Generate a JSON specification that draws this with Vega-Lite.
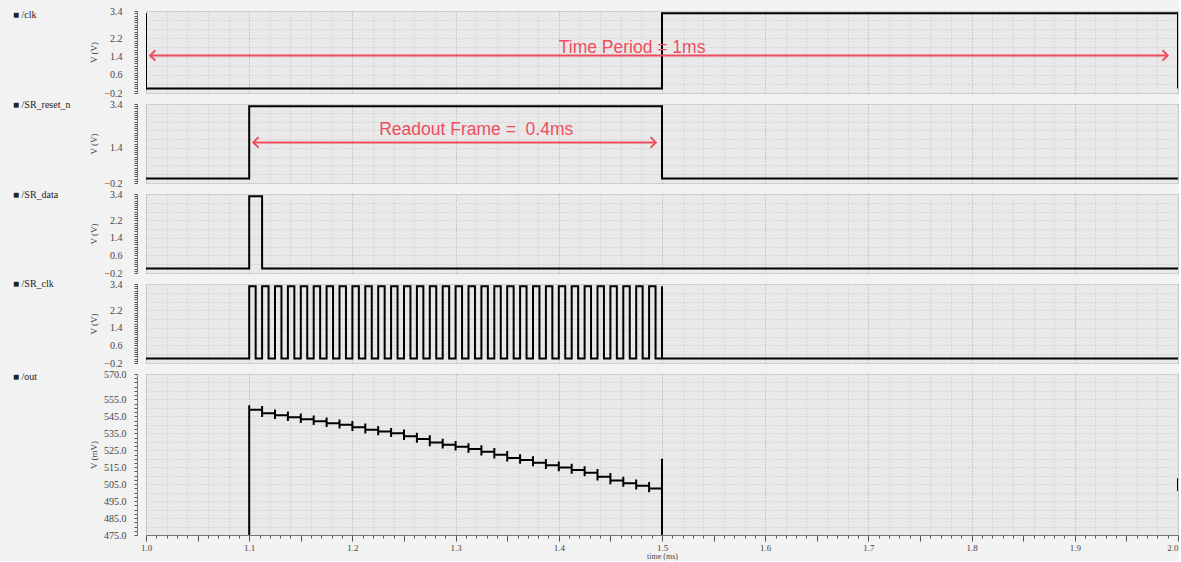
{
  "$schema": "https://vega.github.io/schema/vega-lite/v6.json",
  "background": "#f2f2f2",
  "padding": {"left": 12, "top": 5, "right": 0, "bottom": 0},
  "bounds": "flush",
  "spacing": 11,
  "config": {
    "view": {"fill": "#e9e9e9", "stroke": "#d2d2d2", "strokeWidth": 1},
    "axis": {"labelFont": "Liberation Serif", "titleFont": "Liberation Serif", "labelFontSize": 10, "labelColor": "#444", "titleFontSize": 9, "titleFontWeight": "normal", "titleColor": "#444", "tickColor": "#555", "domainColor": "#777", "gridDash": [1, 2], "gridColor": "#c6c6c6", "labelOverlap": false, "labelBound": false},
    "title": {"font": "Liberation Serif", "fontSize": 10, "fontWeight": "normal", "color": "#222", "anchor": "start", "frame": "group", "orient": "top", "offset": 0, "baseline": "middle", "dx": -133}
  },
  "datasets": {
    "clk": [{"t": 1.0, "v": 3.3}, {"t": 1.0, "v": 0}, {"t": 1.5, "v": 3.3}, {"t": 2.0, "v": 0}],
    "reset": [{"t": 1.0, "v": 0}, {"t": 1.1, "v": 3.3}, {"t": 1.5, "v": 0}, {"t": 2.0, "v": 0}],
    "sdata": [{"t": 1.0, "v": 0}, {"t": 1.1, "v": 3.3}, {"t": 1.1125, "v": 0}, {"t": 2.0, "v": 0}],
    "srclk": [
      {"t": 1.0, "v": 0},
      {"t": 1.1, "v": 3.3}, {"t": 1.10625, "v": 0},
      {"t": 1.1125, "v": 3.3}, {"t": 1.11875, "v": 0},
      {"t": 1.125, "v": 3.3}, {"t": 1.13125, "v": 0},
      {"t": 1.1375, "v": 3.3}, {"t": 1.14375, "v": 0},
      {"t": 1.15, "v": 3.3}, {"t": 1.15625, "v": 0},
      {"t": 1.1625, "v": 3.3}, {"t": 1.16875, "v": 0},
      {"t": 1.175, "v": 3.3}, {"t": 1.18125, "v": 0},
      {"t": 1.1875, "v": 3.3}, {"t": 1.19375, "v": 0},
      {"t": 1.2, "v": 3.3}, {"t": 1.20625, "v": 0},
      {"t": 1.2125, "v": 3.3}, {"t": 1.21875, "v": 0},
      {"t": 1.225, "v": 3.3}, {"t": 1.23125, "v": 0},
      {"t": 1.2375, "v": 3.3}, {"t": 1.24375, "v": 0},
      {"t": 1.25, "v": 3.3}, {"t": 1.25625, "v": 0},
      {"t": 1.2625, "v": 3.3}, {"t": 1.26875, "v": 0},
      {"t": 1.275, "v": 3.3}, {"t": 1.28125, "v": 0},
      {"t": 1.2875, "v": 3.3}, {"t": 1.29375, "v": 0},
      {"t": 1.3, "v": 3.3}, {"t": 1.30625, "v": 0},
      {"t": 1.3125, "v": 3.3}, {"t": 1.31875, "v": 0},
      {"t": 1.325, "v": 3.3}, {"t": 1.33125, "v": 0},
      {"t": 1.3375, "v": 3.3}, {"t": 1.34375, "v": 0},
      {"t": 1.35, "v": 3.3}, {"t": 1.35625, "v": 0},
      {"t": 1.3625, "v": 3.3}, {"t": 1.36875, "v": 0},
      {"t": 1.375, "v": 3.3}, {"t": 1.38125, "v": 0},
      {"t": 1.3875, "v": 3.3}, {"t": 1.39375, "v": 0},
      {"t": 1.4, "v": 3.3}, {"t": 1.40625, "v": 0},
      {"t": 1.4125, "v": 3.3}, {"t": 1.41875, "v": 0},
      {"t": 1.425, "v": 3.3}, {"t": 1.43125, "v": 0},
      {"t": 1.4375, "v": 3.3}, {"t": 1.44375, "v": 0},
      {"t": 1.45, "v": 3.3}, {"t": 1.45625, "v": 0},
      {"t": 1.4625, "v": 3.3}, {"t": 1.46875, "v": 0},
      {"t": 1.475, "v": 3.3}, {"t": 1.48125, "v": 0},
      {"t": 1.4875, "v": 3.3}, {"t": 1.49375, "v": 0},
      {"t": 1.5, "v": 3.3}, {"t": 1.5, "v": 0},
      {"t": 2.0, "v": 0}
    ],
    "out": [
      {"t": 1.0, "v": 300, "seg": "a"},
      {"t": 1.1, "v": 551.5, "seg": "a"}, {"t": 1.1, "v": 548.9, "seg": "a"},
      {"t": 1.1125, "v": 551.1, "seg": "a"}, {"t": 1.1125, "v": 544.7, "seg": "a"}, {"t": 1.1125, "v": 546.9, "seg": "a"},
      {"t": 1.125, "v": 549.1, "seg": "a"}, {"t": 1.125, "v": 543.5, "seg": "a"}, {"t": 1.125, "v": 545.7, "seg": "a"},
      {"t": 1.1375, "v": 547.9, "seg": "a"}, {"t": 1.1375, "v": 542.3, "seg": "a"}, {"t": 1.1375, "v": 544.5, "seg": "a"},
      {"t": 1.15, "v": 546.7, "seg": "a"}, {"t": 1.15, "v": 541.1, "seg": "a"}, {"t": 1.15, "v": 543.3, "seg": "a"},
      {"t": 1.1625, "v": 545.5, "seg": "a"}, {"t": 1.1625, "v": 539.9, "seg": "a"}, {"t": 1.1625, "v": 542.1, "seg": "a"},
      {"t": 1.175, "v": 544.3, "seg": "a"}, {"t": 1.175, "v": 538.7, "seg": "a"}, {"t": 1.175, "v": 540.9, "seg": "a"},
      {"t": 1.1875, "v": 543.1, "seg": "a"}, {"t": 1.1875, "v": 537.9, "seg": "a"}, {"t": 1.1875, "v": 540.1, "seg": "a"},
      {"t": 1.2, "v": 542.3, "seg": "a"}, {"t": 1.2, "v": 536.4, "seg": "a"}, {"t": 1.2, "v": 538.6, "seg": "a"},
      {"t": 1.2125, "v": 540.8, "seg": "a"}, {"t": 1.2125, "v": 534.9, "seg": "a"}, {"t": 1.2125, "v": 537.1, "seg": "a"},
      {"t": 1.225, "v": 539.3, "seg": "a"}, {"t": 1.225, "v": 533.8, "seg": "a"}, {"t": 1.225, "v": 536.0, "seg": "a"},
      {"t": 1.2375, "v": 538.2, "seg": "a"}, {"t": 1.2375, "v": 532.8, "seg": "a"}, {"t": 1.2375, "v": 535.0, "seg": "a"},
      {"t": 1.25, "v": 537.2, "seg": "a"}, {"t": 1.25, "v": 531.0, "seg": "a"}, {"t": 1.25, "v": 533.2, "seg": "a"},
      {"t": 1.2625, "v": 535.4, "seg": "a"}, {"t": 1.2625, "v": 529.4, "seg": "a"}, {"t": 1.2625, "v": 531.6, "seg": "a"},
      {"t": 1.275, "v": 533.8, "seg": "a"}, {"t": 1.275, "v": 527.4, "seg": "a"}, {"t": 1.275, "v": 529.6, "seg": "a"},
      {"t": 1.2875, "v": 531.8, "seg": "a"}, {"t": 1.2875, "v": 526.0, "seg": "a"}, {"t": 1.2875, "v": 528.2, "seg": "a"},
      {"t": 1.3, "v": 530.4, "seg": "a"}, {"t": 1.3, "v": 524.8, "seg": "a"}, {"t": 1.3, "v": 527.0, "seg": "a"},
      {"t": 1.3125, "v": 529.2, "seg": "a"}, {"t": 1.3125, "v": 523.5, "seg": "a"}, {"t": 1.3125, "v": 525.7, "seg": "a"},
      {"t": 1.325, "v": 527.9, "seg": "a"}, {"t": 1.325, "v": 521.9, "seg": "a"}, {"t": 1.325, "v": 524.1, "seg": "a"},
      {"t": 1.3375, "v": 526.3, "seg": "a"}, {"t": 1.3375, "v": 520.1, "seg": "a"}, {"t": 1.3375, "v": 522.3, "seg": "a"},
      {"t": 1.35, "v": 524.5, "seg": "a"}, {"t": 1.35, "v": 518.3, "seg": "a"}, {"t": 1.35, "v": 520.5, "seg": "a"},
      {"t": 1.3625, "v": 522.7, "seg": "a"}, {"t": 1.3625, "v": 517.1, "seg": "a"}, {"t": 1.3625, "v": 519.3, "seg": "a"},
      {"t": 1.375, "v": 521.5, "seg": "a"}, {"t": 1.375, "v": 515.5, "seg": "a"}, {"t": 1.375, "v": 517.7, "seg": "a"},
      {"t": 1.3875, "v": 519.9, "seg": "a"}, {"t": 1.3875, "v": 513.9, "seg": "a"}, {"t": 1.3875, "v": 516.1, "seg": "a"},
      {"t": 1.4, "v": 518.3, "seg": "a"}, {"t": 1.4, "v": 512.6, "seg": "a"}, {"t": 1.4, "v": 514.8, "seg": "a"},
      {"t": 1.4125, "v": 517.0, "seg": "a"}, {"t": 1.4125, "v": 511.1, "seg": "a"}, {"t": 1.4125, "v": 513.3, "seg": "a"},
      {"t": 1.425, "v": 515.5, "seg": "a"}, {"t": 1.425, "v": 509.6, "seg": "a"}, {"t": 1.425, "v": 511.8, "seg": "a"},
      {"t": 1.4375, "v": 514.0, "seg": "a"}, {"t": 1.4375, "v": 507.2, "seg": "a"}, {"t": 1.4375, "v": 509.4, "seg": "a"},
      {"t": 1.45, "v": 511.6, "seg": "a"}, {"t": 1.45, "v": 505.0, "seg": "a"}, {"t": 1.45, "v": 507.2, "seg": "a"},
      {"t": 1.4625, "v": 509.4, "seg": "a"}, {"t": 1.4625, "v": 503.4, "seg": "a"}, {"t": 1.4625, "v": 505.6, "seg": "a"},
      {"t": 1.475, "v": 507.8, "seg": "a"}, {"t": 1.475, "v": 501.8, "seg": "a"}, {"t": 1.475, "v": 504.0, "seg": "a"},
      {"t": 1.4875, "v": 506.2, "seg": "a"}, {"t": 1.4875, "v": 500.2, "seg": "a"}, {"t": 1.4875, "v": 502.4, "seg": "a"},
      {"t": 1.5, "v": 520, "seg": "a"}, {"t": 1.5, "v": 300, "seg": "a"},
      {"t": 2.0, "v": 501, "seg": "b"}, {"t": 2.0, "v": 508.5, "seg": "b"}
    ]
  },
  "vconcat": [
    {
      "width": 1032, "height": 82,
      "title": {"text": "■ /clk", "dy": 18},
      "resolve": {"axis": {"x": "independent", "y": "independent"}},
      "layer": [
        {
          "data": {"name": "clk"},
          "mark": {"type": "line", "interpolate": "step-after", "color": "#000", "strokeWidth": 2, "clip": true},
          "encoding": {
            "x": {"field": "t", "type": "quantitative", "scale": {"domain": [1, 2], "nice": false, "zero": false},
              "axis": {"values": [1,1.02,1.04,1.06,1.08,1.1,1.12,1.14,1.16,1.18,1.2,1.22,1.24,1.26,1.28,1.3,1.32,1.34,1.36,1.38,1.4,1.42,1.44,1.46,1.48,1.5,1.52,1.54,1.56,1.58,1.6,1.62,1.64,1.66,1.68,1.7,1.72,1.74,1.76,1.78,1.8,1.82,1.84,1.86,1.88,1.9,1.92,1.94,1.96,1.98,2],
                "labels": false, "ticks": false, "domain": false, "title": null, "grid": true,
                "gridColor": {"condition": {"test": "abs(datum.value*10 - round(datum.value*10)) < 0.001", "value": "#a9a9a9"}, "value": "#c9c9c9"}}},
            "y": {"field": "v", "type": "quantitative", "scale": {"domain": [-0.2, 3.4], "nice": false, "zero": false},
              "axis": {"title": "V (V)", "titleX": -39, "offset": 9, "tickSize": 3, "labelPadding": 12, "grid": true, "labelOverlap": false, "labelBound": false,
                "values": [-0.2,-0.1,0,0.1,0.2,0.3,0.4,0.5,0.6,0.7,0.8,0.9,1,1.1,1.2,1.3,1.4,1.5,1.6,1.7,1.8,1.9,2,2.1,2.2,2.3,2.4,2.5,2.6,2.7,2.8,2.9,3,3.1,3.2,3.3,3.4],
                "gridOpacity": {"condition": {"test": "abs((datum.value+0.2)*2.5 - round((datum.value+0.2)*2.5)) < 0.01", "value": 1}, "value": 0},
                "labelExpr": "indexof([3.4,2.2,1.4,0.6,-0.2], datum.value) >= 0 ? format(datum.value, '.1f') : ''"}},
            "order": {"value": null}
          }
        },
        {
          "data": {"values": [{"t1": 1.004, "t2": 1.99, "v": 1.45, "label": "Time Period = 1ms", "tl": 1.471, "vl": 1.78}]},
          "layer": [
            {"mark": {"type": "rule", "color": "#ee4d5f", "strokeWidth": 2}, "encoding": {"x": {"field": "t1", "type": "quantitative", "axis": null}, "x2": {"field": "t2"}, "y": {"field": "v", "type": "quantitative", "axis": null}}},
            {"mark": {"type": "point", "shape": "M1,-1L0,0L1,1", "filled": false, "color": "#ee4d5f", "strokeWidth": 2, "size": 110, "opacity": 1}, "encoding": {"x": {"field": "t1", "type": "quantitative", "axis": null}, "y": {"field": "v", "type": "quantitative", "axis": null}}},
            {"mark": {"type": "point", "shape": "M-1,-1L0,0L-1,1", "filled": false, "color": "#ee4d5f", "strokeWidth": 2, "size": 110, "opacity": 1}, "encoding": {"x": {"field": "t2", "type": "quantitative", "axis": null}, "y": {"field": "v", "type": "quantitative", "axis": null}}},
            {"mark": {"type": "text", "color": "#ee4d5f", "font": "Liberation Sans", "fontSize": 17.5, "align": "center", "baseline": "middle"}, "encoding": {"x": {"field": "tl", "type": "quantitative", "axis": null}, "y": {"field": "vl", "type": "quantitative", "axis": null}, "text": {"field": "label"}}}
          ]
        }
      ]
    },
    {
      "width": 1032, "height": 79,
      "title": {"text": "■ /SR_reset_n", "dy": 15},
      "resolve": {"axis": {"x": "independent", "y": "independent"}},
      "layer": [
        {
          "data": {"name": "reset"},
          "mark": {"type": "line", "interpolate": "step-after", "color": "#000", "strokeWidth": 2, "clip": true},
          "encoding": {
            "x": {"field": "t", "type": "quantitative", "scale": {"domain": [1, 2], "nice": false, "zero": false},
              "axis": {"values": [1,1.02,1.04,1.06,1.08,1.1,1.12,1.14,1.16,1.18,1.2,1.22,1.24,1.26,1.28,1.3,1.32,1.34,1.36,1.38,1.4,1.42,1.44,1.46,1.48,1.5,1.52,1.54,1.56,1.58,1.6,1.62,1.64,1.66,1.68,1.7,1.72,1.74,1.76,1.78,1.8,1.82,1.84,1.86,1.88,1.9,1.92,1.94,1.96,1.98,2],
                "labels": false, "ticks": false, "domain": false, "title": null, "grid": true,
                "gridColor": {"condition": {"test": "abs(datum.value*10 - round(datum.value*10)) < 0.001", "value": "#a9a9a9"}, "value": "#c9c9c9"}}},
            "y": {"field": "v", "type": "quantitative", "scale": {"domain": [-0.2, 3.4], "nice": false, "zero": false},
              "axis": {"title": "V (V)", "titleX": -39, "offset": 9, "tickSize": 3, "labelPadding": 12, "grid": true, "labelOverlap": false, "labelBound": false,
                "values": [-0.2,-0.1,0,0.1,0.2,0.3,0.4,0.5,0.6,0.7,0.8,0.9,1,1.1,1.2,1.3,1.4,1.5,1.6,1.7,1.8,1.9,2,2.1,2.2,2.3,2.4,2.5,2.6,2.7,2.8,2.9,3,3.1,3.2,3.3,3.4],
                "gridOpacity": {"condition": {"test": "abs((datum.value+0.2)*2.5 - round((datum.value+0.2)*2.5)) < 0.01", "value": 1}, "value": 0},
                "labelExpr": "indexof([3.4,1.4,-0.2], datum.value) >= 0 ? format(datum.value, '.1f') : ''"}},
            "order": {"value": null}
          }
        },
        {
          "data": {"values": [{"t1": 1.104, "t2": 1.494, "v": 1.65, "label": "Readout Frame = \u00a00.4ms", "tl": 1.32, "vl": 2.2}]},
          "layer": [
            {"mark": {"type": "rule", "color": "#ee4d5f", "strokeWidth": 2}, "encoding": {"x": {"field": "t1", "type": "quantitative", "axis": null}, "x2": {"field": "t2"}, "y": {"field": "v", "type": "quantitative", "axis": null}}},
            {"mark": {"type": "point", "shape": "M1,-1L0,0L1,1", "filled": false, "color": "#ee4d5f", "strokeWidth": 2, "size": 110, "opacity": 1}, "encoding": {"x": {"field": "t1", "type": "quantitative", "axis": null}, "y": {"field": "v", "type": "quantitative", "axis": null}}},
            {"mark": {"type": "point", "shape": "M-1,-1L0,0L-1,1", "filled": false, "color": "#ee4d5f", "strokeWidth": 2, "size": 110, "opacity": 1}, "encoding": {"x": {"field": "t2", "type": "quantitative", "axis": null}, "y": {"field": "v", "type": "quantitative", "axis": null}}},
            {"mark": {"type": "text", "color": "#ee4d5f", "font": "Liberation Sans", "fontSize": 17.5, "align": "center", "baseline": "middle"}, "encoding": {"x": {"field": "tl", "type": "quantitative", "axis": null}, "y": {"field": "vl", "type": "quantitative", "axis": null}, "text": {"field": "label"}}}
          ]
        }
      ]
    },
    {
      "width": 1032, "height": 79,
      "title": {"text": "■ /SR_data", "dy": 15},
      "data": {"name": "sdata"},
      "mark": {"type": "line", "interpolate": "step-after", "color": "#000", "strokeWidth": 2, "clip": true},
      "encoding": {
        "x": {"field": "t", "type": "quantitative", "scale": {"domain": [1, 2], "nice": false, "zero": false},
          "axis": {"values": [1,1.02,1.04,1.06,1.08,1.1,1.12,1.14,1.16,1.18,1.2,1.22,1.24,1.26,1.28,1.3,1.32,1.34,1.36,1.38,1.4,1.42,1.44,1.46,1.48,1.5,1.52,1.54,1.56,1.58,1.6,1.62,1.64,1.66,1.68,1.7,1.72,1.74,1.76,1.78,1.8,1.82,1.84,1.86,1.88,1.9,1.92,1.94,1.96,1.98,2],
            "labels": false, "ticks": false, "domain": false, "title": null, "grid": true,
            "gridColor": {"condition": {"test": "abs(datum.value*10 - round(datum.value*10)) < 0.001", "value": "#a9a9a9"}, "value": "#c9c9c9"}}},
        "y": {"field": "v", "type": "quantitative", "scale": {"domain": [-0.2, 3.4], "nice": false, "zero": false},
          "axis": {"title": "V (V)", "titleX": -39, "offset": 9, "tickSize": 3, "labelPadding": 12, "grid": true, "labelOverlap": false, "labelBound": false,
            "values": [-0.2,-0.1,0,0.1,0.2,0.3,0.4,0.5,0.6,0.7,0.8,0.9,1,1.1,1.2,1.3,1.4,1.5,1.6,1.7,1.8,1.9,2,2.1,2.2,2.3,2.4,2.5,2.6,2.7,2.8,2.9,3,3.1,3.2,3.3,3.4],
            "gridOpacity": {"condition": {"test": "abs((datum.value+0.2)*2.5 - round((datum.value+0.2)*2.5)) < 0.01", "value": 1}, "value": 0},
            "labelExpr": "indexof([3.4,2.2,1.4,0.6,-0.2], datum.value) >= 0 ? format(datum.value, '.1f') : ''"}},
        "order": {"value": null}
      }
    },
    {
      "width": 1032, "height": 79,
      "title": {"text": "■ /SR_clk", "dy": 14},
      "data": {"name": "srclk"},
      "mark": {"type": "line", "interpolate": "step-after", "color": "#000", "strokeWidth": 2, "clip": true},
      "encoding": {
        "x": {"field": "t", "type": "quantitative", "scale": {"domain": [1, 2], "nice": false, "zero": false},
          "axis": {"values": [1,1.02,1.04,1.06,1.08,1.1,1.12,1.14,1.16,1.18,1.2,1.22,1.24,1.26,1.28,1.3,1.32,1.34,1.36,1.38,1.4,1.42,1.44,1.46,1.48,1.5,1.52,1.54,1.56,1.58,1.6,1.62,1.64,1.66,1.68,1.7,1.72,1.74,1.76,1.78,1.8,1.82,1.84,1.86,1.88,1.9,1.92,1.94,1.96,1.98,2],
            "labels": false, "ticks": false, "domain": false, "title": null, "grid": true,
            "gridColor": {"condition": {"test": "abs(datum.value*10 - round(datum.value*10)) < 0.001", "value": "#a9a9a9"}, "value": "#c9c9c9"}}},
        "y": {"field": "v", "type": "quantitative", "scale": {"domain": [-0.2, 3.4], "nice": false, "zero": false},
          "axis": {"title": "V (V)", "titleX": -39, "offset": 9, "tickSize": 3, "labelPadding": 12, "grid": true, "labelOverlap": false, "labelBound": false,
            "values": [-0.2,-0.1,0,0.1,0.2,0.3,0.4,0.5,0.6,0.7,0.8,0.9,1,1.1,1.2,1.3,1.4,1.5,1.6,1.7,1.8,1.9,2,2.1,2.2,2.3,2.4,2.5,2.6,2.7,2.8,2.9,3,3.1,3.2,3.3,3.4],
            "gridOpacity": {"condition": {"test": "abs((datum.value+0.2)*2.5 - round((datum.value+0.2)*2.5)) < 0.01", "value": 1}, "value": 0},
            "labelExpr": "indexof([3.4,2.2,1.4,0.6,-0.2], datum.value) >= 0 ? format(datum.value, '.1f') : ''"}},
        "order": {"value": null}
      }
    },
    {
      "width": 1032, "height": 161,
      "title": {"text": "■ /out", "dy": 17},
      "data": {"name": "out"},
      "mark": {"type": "line", "interpolate": "step-after", "color": "#000", "strokeWidth": 2, "clip": true},
      "encoding": {
        "x": {"field": "t", "type": "quantitative", "scale": {"domain": [1, 2], "nice": false, "zero": false},
          "axis": {"values": [1,1.01,1.02,1.03,1.04,1.05,1.06,1.07,1.08,1.09,1.1,1.11,1.12,1.13,1.14,1.15,1.16,1.17,1.18,1.19,1.2,1.21,1.22,1.23,1.24,1.25,1.26,1.27,1.28,1.29,1.3,1.31,1.32,1.33,1.34,1.35,1.36,1.37,1.38,1.39,1.4,1.41,1.42,1.43,1.44,1.45,1.46,1.47,1.48,1.49,1.5,1.51,1.52,1.53,1.54,1.55,1.56,1.57,1.58,1.59,1.6,1.61,1.62,1.63,1.64,1.65,1.66,1.67,1.68,1.69,1.7,1.71,1.72,1.73,1.74,1.75,1.76,1.77,1.78,1.79,1.8,1.81,1.82,1.83,1.84,1.85,1.86,1.87,1.88,1.89,1.9,1.91,1.92,1.93,1.94,1.95,1.96,1.97,1.98,1.99,2],
            "title": "time (ms)", "titlePadding": 0, "titleFontSize": 8, "labelPadding": 2, "labelFlush": false, "labelFontSize": 9, "grid": true, "labelOverlap": false, "labelBound": false,
            "labelAlign": {"condition": {"test": "datum.value > 1.995", "value": "right"}, "value": "center"},
            "tickSize": {"condition": {"test": "abs(datum.value*20 - round(datum.value*20)) < 0.001", "value": 6}, "value": 3},
            "gridOpacity": {"condition": {"test": "abs(datum.value*50 - round(datum.value*50)) < 0.001", "value": 1}, "value": 0},
            "gridColor": {"condition": {"test": "abs(datum.value*10 - round(datum.value*10)) < 0.001", "value": "#a9a9a9"}, "value": "#c9c9c9"},
            "labelExpr": "abs(datum.value*10 - round(datum.value*10)) < 0.001 ? format(datum.value, '.1f') : ''"}},
        "y": {"field": "v", "type": "quantitative", "scale": {"domain": [475, 570], "nice": false, "zero": false},
          "axis": {"title": "V (mV)", "titleX": -39, "offset": 9, "tickSize": 3, "labelPadding": 8, "grid": true, "labelOverlap": false, "labelBound": false,
            "values": [475,477.5,480,482.5,485,487.5,490,492.5,495,497.5,500,502.5,505,507.5,510,512.5,515,517.5,520,522.5,525,527.5,530,532.5,535,537.5,540,542.5,545,547.5,550,552.5,555,557.5,560,562.5,565,567.5,570],
            "gridOpacity": {"condition": {"test": "abs(datum.value/5 - round(datum.value/5)) < 0.01", "value": 1}, "value": 0},
            "labelExpr": "indexof([570,555,545,535,525,515,505,495,485,475], datum.value) >= 0 ? format(datum.value, '.1f') : ''"}},
        "detail": {"field": "seg"},
        "order": {"value": null}
      }
    }
  ]
}
